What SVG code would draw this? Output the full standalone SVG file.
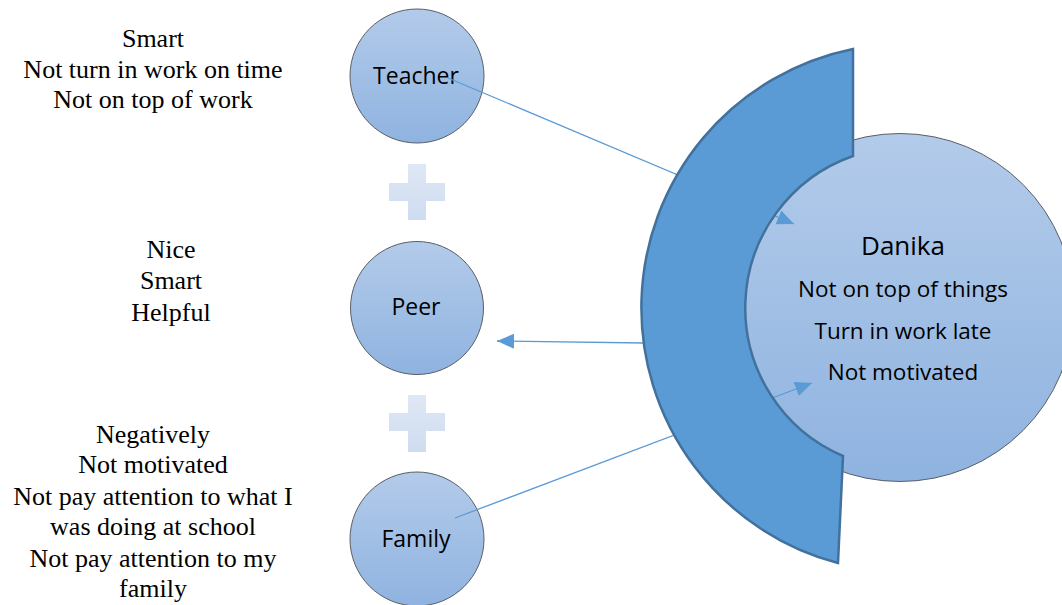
<svg xmlns="http://www.w3.org/2000/svg" width="1062" height="605" viewBox="0 0 1062 605">
  <defs>
    <linearGradient id="bubble" x1="0" y1="0" x2="0" y2="1">
      <stop offset="0" stop-color="#b3cbea"/>
      <stop offset="1" stop-color="#8fb3e0"/>
    </linearGradient>
    <linearGradient id="plusFill" x1="0" y1="0" x2="0" y2="1">
      <stop offset="0" stop-color="#dee7f5"/>
      <stop offset="1" stop-color="#cfdcf0"/>
    </linearGradient>
    <marker id="arrow" markerUnits="userSpaceOnUse" markerWidth="18" markerHeight="16" refX="17" refY="7.5" orient="auto">
      <path d="M0,0 L17,7.5 L0,15 z" fill="#5b9bd5"/>
    </marker>
  </defs>
  <style>
    .bubble { fill: url(#bubble); stroke: #5a5f66; stroke-width: 1; }
    .plus { fill: url(#plusFill); }
    .label { font-family: "Open Sans", "Noto Sans", sans-serif; font-size: 23px; fill: #000; text-anchor: middle; }
    .note { font-family: "Liberation Serif", "Times New Roman", serif; font-size: 26px; fill: #000; text-anchor: middle; }
    .link { stroke: #5b9bd5; stroke-width: 1.3; fill: none; }
  </style>

  <rect width="1062" height="605" fill="#ffffff"/>

  <!-- descriptions beside each source -->
  <g id="teacher-notes">
    <text class="note" x="153" y="47">Smart</text>
    <text class="note" x="153" y="78">Not turn in work on time</text>
    <text class="note" x="153" y="108">Not on top of work</text>
  </g>
  <g id="peer-notes">
    <text class="note" x="171" y="258">Nice</text>
    <text class="note" x="171" y="289">Smart</text>
    <text class="note" x="171" y="321">Helpful</text>
  </g>
  <g id="family-notes">
    <text class="note" x="153" y="443">Negatively</text>
    <text class="note" x="153" y="473">Not motivated</text>
    <text class="note" x="153" y="505">Not pay attention to what I</text>
    <text class="note" x="153" y="535">was doing at school</text>
    <text class="note" x="153" y="567">Not pay attention to my</text>
    <text class="note" x="153" y="597">family</text>
  </g>

  <!-- source circles -->
  <g id="teacher">
    <circle class="bubble" cx="417" cy="76" r="67"/>
    <text class="label" x="416" y="84">Teacher</text>
  </g>
  <g id="peer">
    <circle class="bubble" cx="417" cy="308" r="66.5"/>
    <text class="label" x="416" y="315">Peer</text>
  </g>
  <g id="family">
    <circle class="bubble" cx="417" cy="539" r="67"/>
    <text class="label" x="416" y="547">Family</text>
  </g>

  <!-- plus signs between sources -->
  <g id="plus-1">
    <path class="plus" d="M408,164 H426 V183 H445 V201 H426 V220 H408 V201 H389 V183 H408 z"/>
  </g>
  <g id="plus-2">
    <path class="plus" d="M408,395 H426 V413 H445 V431 H426 V452 H408 V431 H389 V413 H408 z"/>
  </g>

  <!-- central person -->
  <g id="danika">
    <circle class="bubble" cx="900" cy="307.5" r="174"/>
    <text class="label" x="903" y="255" style="font-size:26px">Danika</text>
    <text class="label" x="903" y="297" style="font-size:22.5px">Not on top of things</text>
    <text class="label" x="903" y="339" style="font-size:22.5px">Turn in work late</text>
    <text class="label" x="903" y="380" style="font-size:22.5px">Not motivated</text>
  </g>

  <!-- connectors -->
  <g id="connectors">
    <line class="link" x1="448" y1="78" x2="794" y2="224" marker-end="url(#arrow)"/>
    <line class="link" x1="644" y1="343" x2="497" y2="341" marker-end="url(#arrow)"/>
    <line class="link" x1="455" y1="518" x2="812" y2="383" marker-end="url(#arrow)"/>
  </g>

  <!-- surrounding block arc -->
  <g id="ring">
    <path d="M853,49 A264,264 0 0 0 838,563 L843,456 A161,161 0 0 1 853,156 Z"
          fill="#5b9bd5" stroke="#41719c" stroke-width="2.5" stroke-linejoin="miter"/>
  </g>
</svg>
